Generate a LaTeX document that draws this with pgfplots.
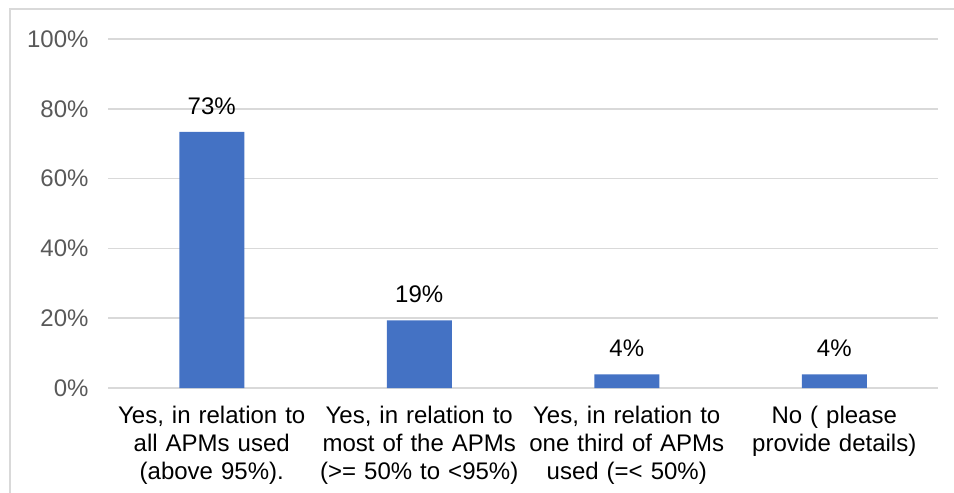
\documentclass[border=0pt]{standalone}
\usepackage{pgfplots}
\pgfplotsset{compat=1.18}
\usepackage{fontspec}
\setmainfont{Liberation Sans}
\definecolor{barblue}{HTML}{4472C4}
\definecolor{gridgray}{HTML}{D9D9D9}
\definecolor{ticktext}{HTML}{595959}

\begin{document}
\begin{tikzpicture}
  \begin{axis}[
    scale only axis,
    width=830pt, height=349pt,
    ybar, bar width=65pt,
    xmin=-0.5, xmax=3.5,
    ymin=0, ymax=100,
    ytick={0,20,40,60,80,100},
    yticklabel={\pgfmathprintnumber{\tick}\%},
    /pgf/number format/assume math mode=true,
    xtick=data,
    xticklabels={{Yes, in relation to\\all APMs used\\(above 95\%).},
                 {Yes, in relation to\\most of the APMs\\(>= 50\% to <95\%)},
                 {Yes, in relation to\\one third of APMs\\used (=< 50\%)},
                 {No ( please\\provide details)}},
    xticklabel style={text width=210pt, align=center, font=\fontsize{24}{28}\selectfont, text=black, anchor=north, yshift=-15pt},
    yticklabel style={font=\fontsize{24}{28}\selectfont, text=ticktext, xshift=-16pt},
    axis line style={draw=none},
    major tick length=0pt,
    ymajorgrids=true,
    grid style={gridgray, line width=1.5pt},
    nodes near coords={\pgfmathprintnumber[fixed,precision=0]{\pgfplotspointmeta}\%},
    nodes near coords style={font=\fontsize{24}{28}\selectfont, text=black, yshift=14pt},
    clip=false,
  ]
    \addplot[fill=barblue, draw=none] coordinates {(0,73.4) (1,19.4) (2,3.9) (3,3.9)};
    \coordinate (sw) at (rel axis cs:0,0);
    \coordinate (ne) at (rel axis cs:1,1);
  \end{axis}
  \pgfresetboundingbox
  \path[use as bounding box] ([shift={(-108pt,-104pt)}]sw) rectangle ([shift={(16pt,39pt)}]ne);
  \draw[gridgray, line width=1.5pt] ([shift={(-98pt,-110pt)}]sw) -- ([shift={(-98pt,30pt)}]sw |- ne) -- ([shift={(30pt,30pt)}]ne);
\end{tikzpicture}
\end{document}
